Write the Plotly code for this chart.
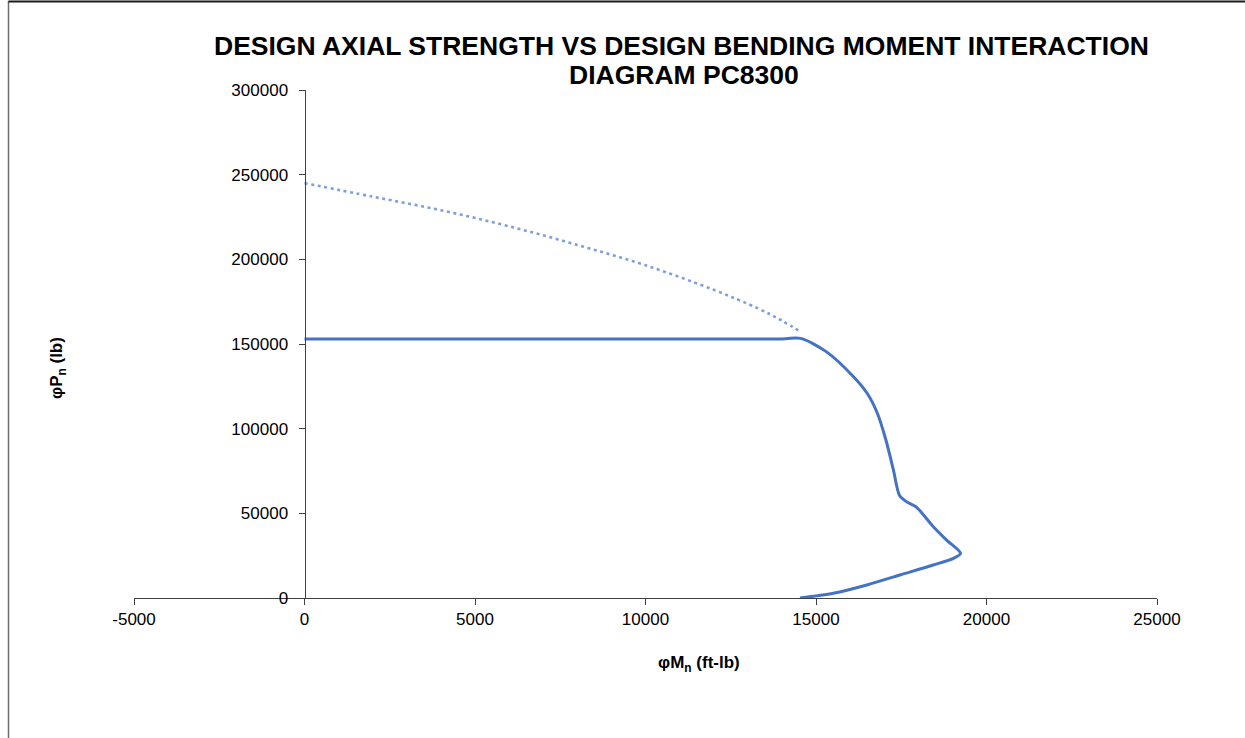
import plotly.graph_objects as go

# Design strength interaction curve (solid)
moment_design = [0, 14000, 14550, 15300, 16100, 16500, 16800, 17050, 17270, 17450,
                 17650, 17950, 18440, 18830, 19240, 19030, 18440, 17460, 16490, 15510, 14530]
axial_design = [153000, 153000, 153300, 145500, 130700, 120900, 109100, 93300, 75600, 60500,
                56900, 53500, 42100, 34200, 26300, 23400, 19500, 13600, 7700, 2800, 0]

# Unreduced portion (dotted)
moment_upper = [0, 2000, 4000, 6000, 8000, 10000, 12000, 13300, 14000, 14580]
axial_upper = [245000, 237000, 229000, 219500, 208500, 196500, 182000, 171000, 163800, 156800]

x_ticks = [-5000, 0, 5000, 10000, 15000, 20000, 25000]
x_tick_text = ["-5000", "0", "5000", "10000", "15000", "20000", "25000"]
y_ticks = [0, 50000, 100000, 150000, 200000, 250000, 300000]
y_tick_text = ["0", "50000", "100000", "150000", "200000", "250000", "300000"]

FONT = "Liberation Sans, Arial, sans-serif"

fig = go.Figure()
fig.add_trace(go.Scatter(x=moment_upper, y=axial_upper, mode="lines",
                         line=dict(color="#7F9FDC", width=2.6, dash="3px,3.6px", shape="spline"),
                         hoverinfo="skip", showlegend=False))
fig.add_trace(go.Scatter(x=moment_design, y=axial_design, mode="lines",
                         line=dict(color="#4472C4", width=3, shape="spline", smoothing=0.8),
                         showlegend=False))

W, H = 1245, 738
L, R, T, B = 134, 88, 90, 140
pw, ph = W - L - R, H - T - B

def px_x(p):
    return (p - L) / pw

def px_y(p):
    return (H - B - p) / ph

fig.update_layout(
    width=W, height=H,
    margin=dict(l=L, r=R, t=T, b=B),
    paper_bgcolor="white", plot_bgcolor="white",
    font=dict(family=FONT, size=17, color="#000000"),
    xaxis=dict(range=[-5000, 25000], tickvals=x_ticks, ticktext=x_tick_text,
               showgrid=False, zeroline=False, showline=True, linecolor="#404040", linewidth=1,
               ticks="outside", ticklen=6, tickcolor="#404040",
               tickfont=dict(family=FONT, size=17, color="#000000")),
    yaxis=dict(range=[0, 300000], tickvals=y_ticks, ticktext=y_tick_text,
               showgrid=False, zeroline=False, showline=True, linecolor="#404040", linewidth=1,
               ticks="outside", ticklen=6, tickcolor="#404040", ticklabelstandoff=7,
               anchor="free", position=5000 / 30000,
               tickfont=dict(family=FONT, size=17, color="#000000")),
    annotations=[
        dict(text="<b>DESIGN AXIAL STRENGTH VS DESIGN BENDING MOMENT INTERACTION</b>",
             x=px_x(681), y=px_y(46), xref="paper", yref="paper", showarrow=False,
             xanchor="center", yanchor="middle", font=dict(family=FONT, size=26.5, color="#000000")),
        dict(text="<b>DIAGRAM PC8300</b>",
             x=px_x(684), y=px_y(75), xref="paper", yref="paper", showarrow=False,
             xanchor="center", yanchor="middle", font=dict(family=FONT, size=26.5, color="#000000")),
        dict(text="<b>φM<sub>n</sub> (ft-lb)</b>",
             x=px_x(699), y=px_y(664), xref="paper", yref="paper", showarrow=False,
             xanchor="center", yanchor="middle", font=dict(family=FONT, size=17, color="#000000")),
        dict(text="<b>φP<sub>n</sub> (lb)</b>", textangle=-90,
             x=px_x(58), y=px_y(368), xref="paper", yref="paper", showarrow=False,
             xanchor="center", yanchor="middle", font=dict(family=FONT, size=17, color="#000000")),
    ],
    shapes=[
        dict(type="line", xref="paper", yref="paper",
             x0=px_x(8.5), x1=px_x(8.5), y0=px_y(745), y1=px_y(1),
             line=dict(color="#6e6e6e", width=1.5)),
        dict(type="line", xref="paper", yref="paper",
             x0=px_x(8.5), x1=px_x(1250), y0=px_y(1.5), y1=px_y(1.5),
             line=dict(color="#1a1a1a", width=2)),
    ],
)

fig.write_html("out.html", config={"displayModeBar": False},
               post_script="document.body.style.margin='0px';document.body.style.overflow='hidden';")
